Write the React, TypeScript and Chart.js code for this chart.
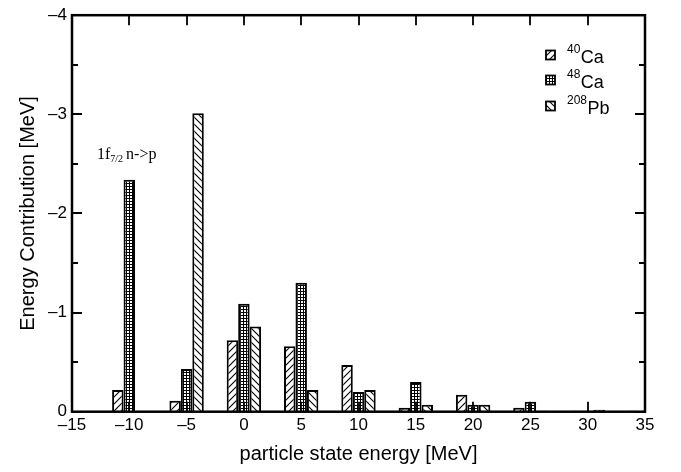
import React, { useEffect, useRef } from "react";
import { Chart, registerables } from "chart.js";

Chart.register(...registerables);

const energies = [-10, -5, 0, 5, 10, 15, 20, 25, 30, 35];
const ca40 = [-0.22, -0.11, -0.72, -0.66, -0.47, -0.04, -0.17, -0.04, -0.01, -0.01];
const ca48 = [-2.34, -0.43, -1.09, -1.3, -0.2, -0.3, -0.07, -0.1, -0.01, -0.01];
const pb208 = [null, -3.01, -0.86, -0.22, -0.22, -0.07, -0.07, -0.01, -0.02, null];

const seriesNames = [
  { sup: "40", main: "Ca" },
  { sup: "48", main: "Ca" },
  { sup: "208", main: "Pb" },
];

const yTicks = [-4, -3, -2, -1, 0];
const xTicks = [-15, -10, -5, 0, 5, 10, 15, 20, 25, 30, 35];

const SANS = "'Liberation Sans', Arial, Helvetica, sans-serif";
const SERIF = "'Liberation Serif', 'Times New Roman', serif";

function makePattern(kind: string): CanvasPattern | string {
  const c = document.createElement("canvas");
  const s = kind === "grid" ? 3 : 7;
  c.width = s;
  c.height = s;
  const g = c.getContext("2d")!;
  g.fillStyle = "#fff";
  g.fillRect(0, 0, s, s);
  g.strokeStyle = "#000";
  g.fillStyle = "#000";
  g.lineWidth = 1.1;
  if (kind === "grid") {
    g.fillRect(0, 0, s, 1);
    g.fillRect(0, 0, 1, s);
  } else if (kind === "fwd") {
    g.beginPath();
    g.moveTo(-1, s + 1);
    g.lineTo(s + 1, -1);
    g.moveTo(-1, 1);
    g.lineTo(1, -1);
    g.moveTo(s - 1, s + 1);
    g.lineTo(s + 1, s - 1);
    g.stroke();
  } else {
    g.beginPath();
    g.moveTo(-1, -1);
    g.lineTo(s + 1, s + 1);
    g.moveTo(s - 1, -1);
    g.lineTo(s + 1, 1);
    g.moveTo(-1, s - 1);
    g.lineTo(1, s + 1);
    g.stroke();
  }
  const p = g.createPattern(c, "repeat");
  return p || "#fff";
}

function fmtMinus(v: number): string {
  return v < 0 ? "\u2013" + String(Math.abs(v)) : String(v);
}

export default function App() {
  const ref = useRef<HTMLCanvasElement | null>(null);

  useEffect(() => {
    const canvas = ref.current;
    if (!canvas) return;
    const patterns = [makePattern("fwd"), makePattern("grid"), makePattern("back")];
    const series = [ca40, ca48, pb208];

    const framePlugin = {
      id: "frameAndExtras",
      afterDatasetsDraw(chart: any) {
        const ctx = chart.ctx;
        const { left, right, top, bottom } = chart.chartArea;
        const ys = chart.scales.y;
        const xs = chart.scales.x;
        ctx.save();
        ctx.strokeStyle = "#000";
        ctx.lineWidth = 1.8;
        ctx.beginPath();
        for (let v = -4; v <= 0.001; v += 0.5) {
          const y = Math.round(ys.getPixelForValue(v));
          const major = Math.abs(v - Math.round(v)) < 1e-6;
          const len = major ? 10 : 6;
          ctx.moveTo(left, y);
          ctx.lineTo(left + len, y);
          ctx.moveTo(right, y);
          ctx.lineTo(right - len, y);
        }
        for (const t of xTicks) {
          if (t === -15 || t === 35) continue;
          const x = Math.round(xs.getPixelForValue(t));
          ctx.moveTo(x, top);
          ctx.lineTo(x, top + 10);
          ctx.moveTo(x, bottom);
          ctx.lineTo(x, bottom - 10);
        }
        ctx.stroke();
        ctx.lineWidth = 2.5;
        ctx.strokeRect(left, top, right - left, bottom - top);

        // legend
        const rowsY = [55, 80, 106];
        for (let i = 0; i < 3; i++) {
          const cy = rowsY[i];
          ctx.fillStyle = patterns[i] as any;
          ctx.fillRect(546, cy - 4.5, 9, 9);
          ctx.lineWidth = 1.8;
          ctx.strokeStyle = "#000";
          ctx.strokeRect(546, cy - 4.5, 9, 9);
          ctx.fillStyle = "#000";
          ctx.textBaseline = "alphabetic";
          ctx.textAlign = "left";
          ctx.font = `12px ${SANS}`;
          ctx.fillText(seriesNames[i].sup, 567, cy - 2);
          const w = ctx.measureText(seriesNames[i].sup).width;
          ctx.font = `18px ${SANS}`;
          ctx.fillText(seriesNames[i].main, 567 + w + 0.5, cy + 8);
        }

        // annotation
        ctx.fillStyle = "#000";
        ctx.textAlign = "left";
        ctx.textBaseline = "alphabetic";
        ctx.font = `16px ${SERIF}`;
        ctx.fillText("1f", 97, 159);
        let x = 97 + ctx.measureText("1f").width;
        ctx.font = `10px ${SERIF}`;
        ctx.fillText("7/2", x, 162);
        x += ctx.measureText("7/2").width + 3;
        ctx.font = `16px ${SERIF}`;
        ctx.fillText("n->p", x, 159);
        ctx.restore();
      },
    };

    const chart = new Chart(canvas, {
      type: "bar",
      data: {
        datasets: series.map((arr, i) => ({
          label: seriesNames[i].sup + seriesNames[i].main,
          data: energies.map((e, j) => ({ x: e, y: arr[j] })) as any,
          backgroundColor: patterns[i] as any,
          borderColor: "#000",
          borderWidth: 2,
          categoryPercentage: 0.6,
          barPercentage: 1.0,
        })),
      },
      options: {
        responsive: false,
        animation: false,
        layout: { padding: { top: 11.7, right: 36, left: 0, bottom: 0 } },
        plugins: {
          legend: { display: false },
          tooltip: { enabled: false },
        },
        scales: {
          x: {
            type: "linear",
            min: -15,
            max: 35,
            offset: false,
            grid: { display: false, drawTicks: false },
            border: { display: false },
            afterBuildTicks: (s: any) => {
              s.ticks = xTicks.map((v) => ({ value: v }));
            },
            afterFit: (s: any) => {
              s.height = 472 - 411.7;
            },
            ticks: {
              color: "#000",
              font: { family: SANS, size: 17 },
              padding: 3,
              maxRotation: 0,
              autoSkip: false,
              callback: (v: any) => fmtMinus(Number(v)),
            },
            title: {
              display: true,
              text: "particle state energy [MeV]",
              color: "#000",
              font: { family: SANS, size: 20 },
              padding: { top: 0, bottom: 6 },
            },
          },
          y: {
            type: "linear",
            reverse: true,
            min: -4,
            max: 0,
            grid: { display: false, drawTicks: false },
            border: { display: false },
            afterBuildTicks: (s: any) => {
              s.ticks = yTicks.map((v) => ({ value: v }));
            },
            afterFit: (s: any) => {
              s.width = 72;
            },
            ticks: {
              color: "#000",
              font: { family: SANS, size: 17 },
              padding: 5,
              callback: (v: any) => fmtMinus(Number(v)),
            },
            title: {
              display: true,
              text: "Energy Contribution [MeV]",
              color: "#000",
              font: { family: SANS, size: 20 },
              padding: { top: 16, bottom: 0 },
            },
          },
        },
      },
      plugins: [framePlugin],
    });
    return () => chart.destroy();
  }, []);

  return (
    <div style={{ position: "absolute", left: 0, top: 0, width: 681, height: 472, background: "#fff" }}>
      <canvas ref={ref} width={681} height={472} style={{ display: "block", width: 681, height: 472 }} />
    </div>
  );
}
